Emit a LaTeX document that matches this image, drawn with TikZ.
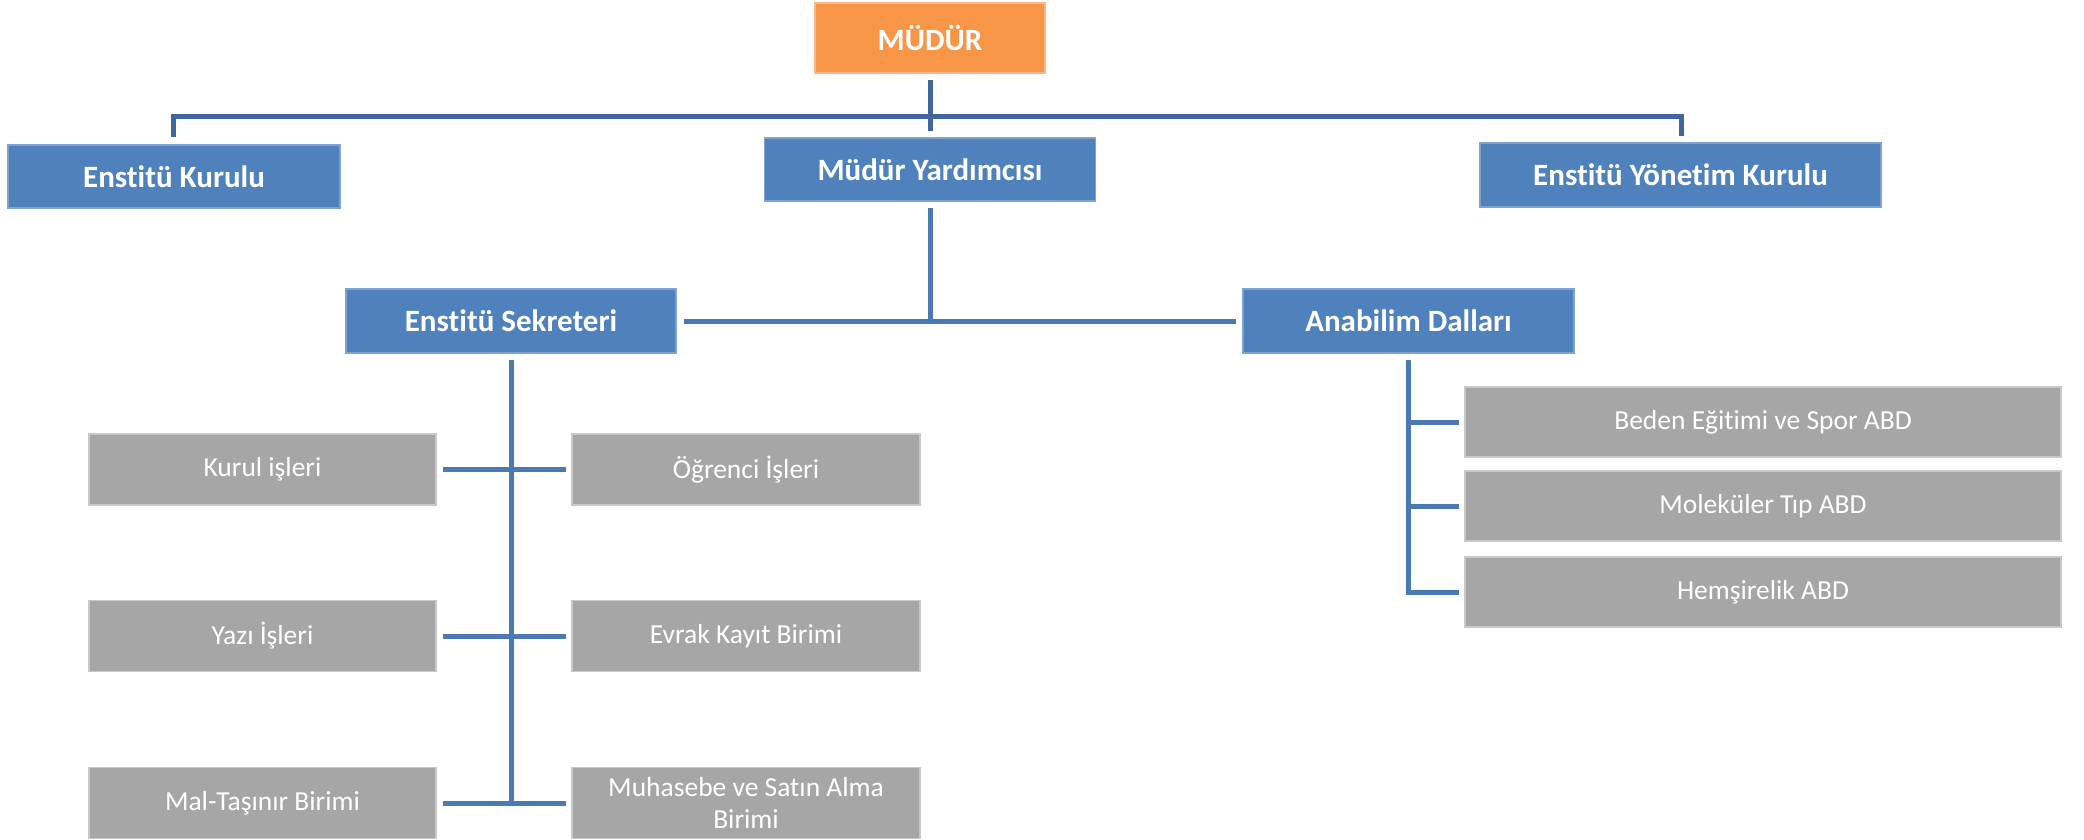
\documentclass[tikz,border=0pt]{standalone}
\usepackage{fontspec}
\setmainfont{Carlito}[Ligatures={NoCommon}]
\usetikzlibrary{calc}
\definecolor{bluebox}{HTML}{4F81BD}
\definecolor{blueedge}{HTML}{7FA3D1}
\definecolor{orangebox}{HTML}{F79646}
\definecolor{orangeedge}{HTML}{FAB88A}
\definecolor{graybox}{HTML}{A6A6A6}
\definecolor{grayedge}{HTML}{C8C8C8}
\definecolor{topline}{HTML}{41679A}
\definecolor{subline}{HTML}{4A79B4}
\tikzset{
  box/.style={rectangle, inner sep=0pt, text=white, align=center},
  bluenode/.style={box, fill=bluebox, draw=blueedge, line width=1.2pt,
    font=\fontsize{31}{37}\selectfont\bfseries},
  orangenode/.style={box, fill=orangebox, draw=orangeedge, line width=1.2pt,
    font=\fontsize{31}{37}\selectfont\bfseries},
  graynode/.style={box, fill=graybox, draw=grayedge, line width=1.2pt,
    font=\fontsize{27.5}{32}\selectfont},
  topconn/.style={draw=topline, line width=5pt},
  subconn/.style={draw=subline, line width=5pt}
}
\begin{document}
\begin{tikzpicture}[x=1pt,y=-1pt]
\useasboundingbox (0,0) rectangle (2084,839);
% top level
\node[orangenode, minimum width=230pt, minimum height=70pt] (mudur) at (930,38) {MÜDÜR};
\node[bluenode, minimum width=332pt, minimum height=63pt] (ek) at (174,176.5) {Enstitü Kurulu};
\node[bluenode, minimum width=331pt, minimum height=63pt] (my) at (930,169.5) {Müdür Yardımcısı};
\node[bluenode, minimum width=401pt, minimum height=64pt] (eyk) at (1680.5,175) {Enstitü Yönetim Kurulu};
\node[bluenode, minimum width=330pt, minimum height=64pt] (es) at (511,321) {Enstitü Sekreteri};
\node[bluenode, minimum width=331pt, minimum height=64pt] (ad) at (1408.5,321) {Anabilim Dalları};
% secretary units
\tikzset{leftg/.style={graynode, minimum width=347pt, minimum height=71pt},
         rightg/.style={graynode, minimum width=348pt, minimum height=71pt},
         abd/.style={graynode, minimum width=596pt, minimum height=70pt}}
\node[leftg] (k1) at (262.5,469.5) {Kurul işleri};
\node[rightg] (o1) at (746,469.5) {Öğrenci İşleri};
\node[leftg] (k2) at (262.5,636) {Yazı İşleri};
\node[rightg] (o2) at (746,636) {Evrak Kayıt Birimi};
\node[leftg] (k3) at (262.5,803) {Mal-Taşınır Birimi};
\node[rightg] (o3) at (746,803) {Muhasebe ve Satın Alma\\Birimi};
% departments
\node[abd] (a1) at (1763,422) {Beden Eğitimi ve Spor ABD};
\node[abd] (a2) at (1763,506) {Moleküler Tıp ABD};
\node[abd] (a3) at (1763,592) {Hemşirelik ABD};
% coordinates
\coordinate (tl) at (173,116);
\coordinate (tr) at (1681,116);
\coordinate (mbar) at (930,321);
% top connectors
\draw[topconn] ($(mudur.south)+(0,6)$) -- ($(my.north)+(0,-6)$);
\draw[topconn, line join=miter] ($(ek.north)+(-1,-7)$) -- (tl) -- (tr) -- ($(eyk.north)+(0.5,-6)$);
% middle connectors
\draw[subconn] ($(my.south)+(0,6)$) -- (mbar);
\draw[subconn] ($(es.east)+(7,0)$) -- ($(ad.west)+(-6,0)$);
% secretary tree
\coordinate (sbot) at (511,803);
\draw[subconn] ($(es.south)+(0,6)$) -- (sbot);
\foreach \l/\r in {k1/o1,k2/o2,k3/o3}{
  \draw[subconn] ($(\l.east)+(6,0)$) -- ($(\r.west)+(-5,0)$);
}
% department tree
\coordinate (abot) at (1408,592);
\draw[subconn, line join=miter] ($(ad.south)+(-0.5,6)$) -- (abot) -- ($(a3.west)+(-5,0)$);
\draw[subconn] (1408,422) -- ($(a1.west)+(-5,0)$);
\draw[subconn] (1408,506) -- ($(a2.west)+(-5,0)$);
\end{tikzpicture}
\end{document}
